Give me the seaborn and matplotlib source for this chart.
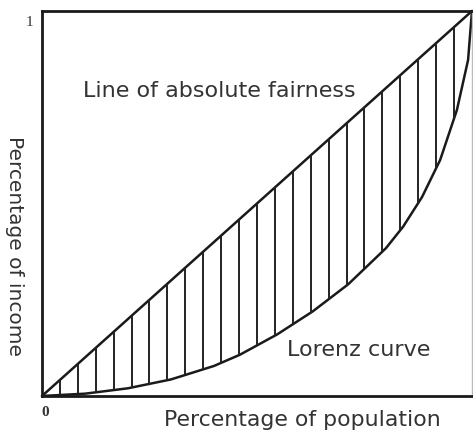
import numpy as np
import pandas as pd
import seaborn as sns
import matplotlib.pyplot as plt

# points (share of population, share of income)
equality_pop = [0.0, 1.0]
equality_inc = [0.0, 1.0]
lorenz_pop = [0.0, 0.1, 0.2, 0.3, 0.4, 0.46, 0.547, 0.63, 0.712, 0.80, 0.84, 0.884, 0.926, 0.965, 0.991, 1.0]
lorenz_inc = [0.0, 0.006, 0.02, 0.043, 0.078, 0.107, 0.160, 0.220, 0.290, 0.384, 0.440, 0.517, 0.613, 0.743, 0.873, 1.0]
hatch_x = [k / 24 for k in range(1, 24)]

sns.set_style('white')
plt.rcParams['font.family'] = ['DejaVu Sans']

fig = plt.figure(figsize=(4.73, 4.34), dpi=100)
ax = fig.add_axes([0.0888, 0.0876, 0.909, 0.887])

eq = pd.DataFrame({'pop': equality_pop, 'inc': equality_inc})
lz = pd.DataFrame({'pop': lorenz_pop, 'inc': lorenz_inc})
sns.lineplot(data=eq, x='pop', y='inc', ax=ax, color='#1a1a1a', lw=1.8, sort=False, clip_on=False)
sns.lineplot(data=lz, x='pop', y='inc', ax=ax, color='#1a1a1a', lw=1.8, sort=False, clip_on=False)

# vertical hatching between the two curves
hx = np.array(hatch_x)
ax.vlines(hx, np.interp(hx, lorenz_pop, lorenz_inc), np.interp(hx, equality_pop, equality_inc),
          color='#222222', lw=1.4)

ax.set_xlim(0, 1)
ax.set_ylim(0, 1)
ax.set_xticks([])
ax.set_yticks([])
ax.set_xlabel('')
ax.set_ylabel('')
for s in ['left', 'bottom', 'top']:
    ax.spines[s].set_color('#1a1a1a')
    ax.spines[s].set_linewidth(2)
ax.spines['right'].set_color('#bbbbbb')
ax.spines['right'].set_linewidth(1)

ax.text(-0.028, 0.971, '1', family='Liberation Serif', fontsize=11, color='#333333',
        ha='center', va='center')
ax.text(0.007, -0.042, '0', family='Liberation Serif', fontsize=11, fontweight='bold',
        color='#333333', ha='center', va='center')

ax.text(0.095, 0.792, 'Line of absolute fairness', fontsize=16, color='#333333', va='center')
ax.text(0.57, 0.119, 'Lorenz curve', fontsize=16, color='#333333', va='center')
ax.text(0.605, -0.062, 'Percentage of population', transform=ax.transAxes, fontsize=15.8,
        color='#333333', ha='center', va='center')
ax.text(-0.063, 0.39, 'Percentage of income', transform=ax.transAxes, fontsize=14.5,
        color='#333333', ha='center', va='center', rotation=-90)

fig.savefig('out.png', dpi=100)
